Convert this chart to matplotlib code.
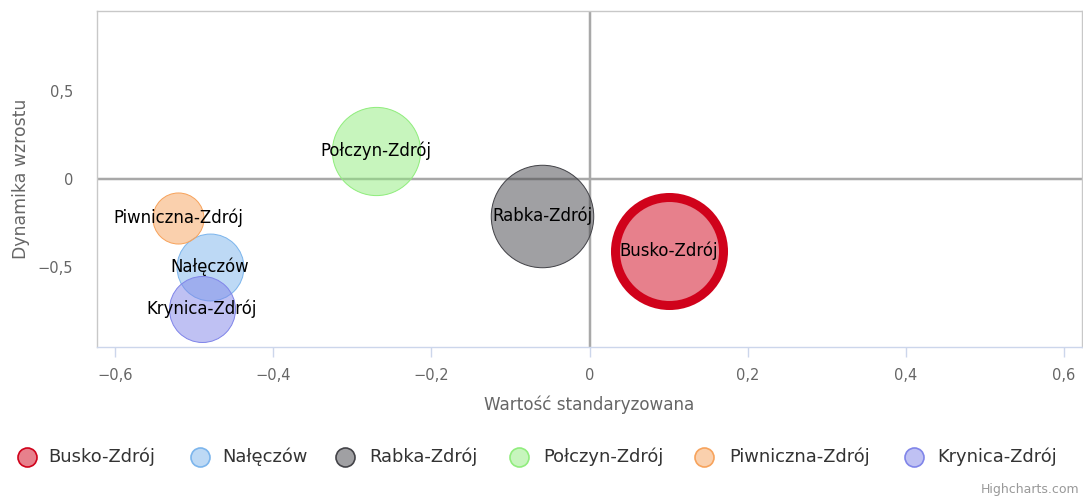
import matplotlib
matplotlib.use("Agg")
import matplotlib.pyplot as plt
from matplotlib.lines import Line2D
import numpy as np

plt.rcParams['font.family'] = ['DejaVu Sans']

# ---- data ----
names = ["Busko-Zdrój", "Nałęczów", "Rabka-Zdrój", "Połczyn-Zdrój", "Piwniczna-Zdrój", "Krynica-Zdrój"]
x_vals = [0.10, -0.48, -0.06, -0.27, -0.52, -0.49]
y_vals = [-0.41, -0.50, -0.21, 0.16, -0.22, -0.74]
z_vals = [30.0, 11.5, 27.0, 20.0, 6.7, 11.2]
colors = ["#d0021b", "#7cb5ec", "#434348", "#90ed7d", "#f7a35c", "#8085e9"]
x_ticks = [-0.6, -0.4, -0.2, 0, 0.2, 0.4, 0.6]
y_ticks = [-0.5, 0, 0.5]
x_title = "Wartość standaryzowana"
y_title = "Dynamika wzrostu"

W, H, DPI = 1083, 500, 100
fig = plt.figure(figsize=(W / DPI, H / DPI), dpi=DPI)
px2pt = 72.0 / DPI

L, R, T, B = 97, 1082, 11, 347
ax = fig.add_axes([L / W, 1 - B / H, (R - L) / W, (B - T) / H])
ax.set_xlim(-0.6226, 0.6226)
ax.set_ylim(-0.955, 0.955)

# frame
for s in ["top", "right", "left"]:
    ax.spines[s].set_color("#c8c8c8")
    ax.spines[s].set_linewidth(1.0)
ax.spines["bottom"].set_color("#ccd6eb")
ax.spines["bottom"].set_linewidth(1.0)

# zero plot lines
ax.axhline(0, color="#a8a8a8", lw=2.5 * px2pt, zorder=1)
ax.axvline(0, color="#a8a8a8", lw=2.5 * px2pt, zorder=1)

# bubbles
k = 9.86  # px radius per sqrt(z)
for i, (n, xv, yv, zv, c) in enumerate(zip(names, x_vals, y_vals, z_vals, colors)):
    r = np.sqrt(zv) * k
    lw = 9 if i == 0 else 1
    s = (2 * r * px2pt) ** 2
    ax.scatter([xv], [yv], s=s, facecolor=matplotlib.colors.to_rgba(c, 0.5),
               edgecolor=c, linewidth=lw * px2pt, zorder=2 + i)
for n, xv, yv in zip(names, x_vals, y_vals):
    ax.text(xv, yv, n, ha="center", va="center", fontsize=11.9, color="black", zorder=20)

# ticks
ax.set_xticks(x_ticks)
ax.set_xticklabels([("−" if v < 0 else "") + f"{abs(v):g}".replace(".", ",") for v in x_ticks])
ax.set_yticks(y_ticks)
ax.set_yticklabels([("−" if v < 0 else "") + f"{abs(v):g}".replace(".", ",") for v in y_ticks])
ax.tick_params(axis="x", length=10 * px2pt, width=1, color="#ccd6eb", labelcolor="#666666",
               labelsize=10.5, pad=8)
ax.tick_params(axis="y", length=0, labelcolor="#666666", labelsize=10.5, pad=24 * px2pt)

fig.text((L + R) / 2 / W, 1 - 405 / H, x_title, ha="center", va="center", fontsize=12.1, color="#666666")
fig.text(21 / W, 1 - 179 / H, y_title, ha="center", va="center", rotation=90, fontsize=12.4, color="#666666")

# legend
leg_y = 1 - 457 / H
sym_x = [27, 200, 345, 519, 704, 914]
txt_x = [48, 222, 369, 543, 729, 937]
for n, c, sx, tx in zip(names, colors, sym_x, txt_x):
    fig.add_artist(Line2D([sx / W], [leg_y], marker="o", markersize=19 * px2pt,
                          markerfacecolor=matplotlib.colors.to_rgba(c, 0.5),
                          markeredgecolor=c, markeredgewidth=1.2, linestyle="none",
                          transform=fig.transFigure))
    fig.text(tx / W, leg_y, n, ha="left", va="center", fontsize=12.9, color="#333333")

fig.text(1079 / W, 1 - 490 / H, "Highcharts.com", ha="right", va="center", fontsize=9, color="#999999")

fig.savefig("out.png", dpi=DPI)
